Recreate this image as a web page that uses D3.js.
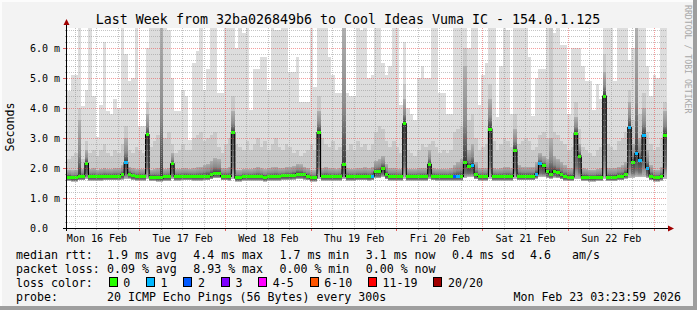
<!DOCTYPE html>
<html>
<head>
<meta charset="utf-8">
<title>Smokeping - last week</title>
<script src="https://cdn.jsdelivr.net/npm/d3@7/dist/d3.min.js"></script>
<style>
  body { margin: 0; background: #f3f3f3; }
  svg { display: block; }
  text { font-family: "DejaVu Sans Mono", monospace; fill: #000; }
</style>
</head>
<body>
<svg id="chart" width="697" height="310"></svg>
<script>
// hourly consolidated values, ms (one entry per hour, 168 hours)
const median = [
  1.70,1.67,1.67,1.73,1.73,2.16,1.72,1.72,1.72,1.72,
  1.73,1.73,1.73,1.73,1.73,1.77,2.18,1.80,1.75,1.72,
  1.72,1.72,3.11,1.70,1.70,1.68,1.67,1.71,1.71,2.14,
  1.72,1.72,1.73,1.73,1.73,1.72,1.72,1.72,1.73,1.73,
  1.77,1.83,1.83,1.73,1.73,1.72,3.18,1.67,1.67,1.72,
  1.72,1.72,1.72,1.72,1.72,1.68,1.72,1.72,1.72,1.72,
  1.74,1.74,1.74,1.76,1.80,1.80,1.77,1.73,1.67,1.67,
  3.18,1.72,1.72,1.72,1.72,1.72,1.72,2.12,1.72,1.72,
  1.72,1.73,1.73,1.73,1.72,1.73,1.87,1.87,2.00,1.77,
  1.72,1.72,1.72,1.72,3.47,1.72,1.72,1.72,1.72,1.72,
  1.72,2.12,1.73,1.72,1.72,1.72,1.72,1.72,1.72,1.72,
  1.72,2.20,2.05,2.10,1.77,1.72,1.72,1.72,3.30,1.72,
  1.72,1.72,1.72,1.72,1.72,2.60,1.73,1.73,1.73,1.73,
  1.73,1.80,2.14,2.07,1.87,1.80,1.90,1.85,1.77,1.72,
  1.70,1.70,3.15,2.40,1.70,1.70,1.68,1.68,1.70,1.70,
  4.40,1.70,1.70,1.70,1.73,1.73,1.80,3.35,2.20,2.48,
  2.25,3.09,2.00,1.73,1.67,1.67,1.72,3.10
];
// smoke: lowest ping, top of dark smoke, top of mid smoke, highest ping
const minPing = [
  1.57,1.55,1.55,1.59,1.59,1.62,1.58,1.58,1.58,1.58,
  1.59,1.59,1.59,1.59,1.59,1.61,1.63,1.64,1.60,1.58,
  1.58,1.58,1.62,1.57,1.57,1.55,1.55,1.57,1.57,1.62,
  1.58,1.58,1.59,1.59,1.59,1.58,1.58,1.58,1.59,1.59,
  1.62,1.66,1.66,1.59,1.59,1.58,1.62,1.55,1.55,1.58,
  1.58,1.58,1.58,1.58,1.58,1.55,1.58,1.58,1.58,1.58,
  1.60,1.60,1.60,1.61,1.63,1.63,1.61,1.59,1.55,1.55,
  1.62,1.58,1.58,1.58,1.58,1.58,1.58,1.62,1.58,1.58,
  1.58,1.59,1.59,1.59,1.58,1.59,1.66,1.66,1.70,1.62,
  1.58,1.58,1.58,1.58,1.64,1.58,1.58,1.58,1.58,1.58,
  1.58,1.62,1.59,1.58,1.58,1.58,1.58,1.58,1.58,1.58,
  1.58,1.66,1.70,1.70,1.62,1.58,1.58,1.58,1.64,1.58,
  1.58,1.58,1.58,1.58,1.58,1.63,1.59,1.59,1.59,1.59,
  1.59,1.64,1.70,1.70,1.66,1.64,1.68,1.66,1.62,1.58,
  1.57,1.57,1.62,1.64,1.57,1.57,1.55,1.55,1.57,1.57,
  1.64,1.57,1.57,1.57,1.59,1.59,1.64,1.66,1.68,1.70,
  1.70,1.70,1.66,1.59,1.55,1.55,1.58,1.64
];
const darkSmoke = [
  1.95,1.92,1.95,3.60,1.98,2.60,1.98,2.00,1.95,1.98,
  2.00,1.98,1.97,2.00,2.00,2.10,3.00,2.05,2.00,1.97,
  1.98,1.98,3.80,1.95,1.97,2.00,6.70,1.98,2.00,2.50,
  1.97,1.98,2.00,2.00,1.98,1.99,2.02,2.05,2.10,2.15,
  2.25,2.35,2.30,2.00,2.00,2.05,3.90,1.95,1.95,1.98,
  1.98,1.97,2.00,2.05,2.00,1.97,2.00,2.02,2.05,2.00,
  2.00,2.05,2.05,2.08,2.15,2.12,2.05,2.00,1.92,1.92,
  3.90,2.00,2.05,2.00,2.00,1.98,2.00,6.70,2.00,1.98,
  1.98,2.00,2.00,2.02,2.00,2.05,2.25,2.30,2.40,2.15,
  2.00,2.00,1.98,1.98,4.30,1.98,1.97,1.97,2.00,2.00,
  2.00,2.60,2.00,1.98,1.98,1.98,1.97,2.00,2.10,2.20,
  2.30,5.40,2.60,2.80,2.20,2.00,2.00,2.00,4.30,2.00,
  1.98,2.00,2.05,2.05,2.00,3.30,2.10,2.05,2.05,2.05,
  2.05,2.20,2.50,2.40,2.30,3.00,2.40,2.30,2.20,2.10,
  2.00,2.00,3.70,2.80,2.00,1.98,1.95,1.95,1.98,2.00,
  5.20,2.00,2.00,2.00,2.05,2.10,2.20,4.20,2.80,6.70,
  3.00,4.00,2.60,2.10,1.95,1.95,2.05,3.90
];
const upperSmoke = [
  2.3,2.4,2.5,4.0,2.3,2.9,2.5,2.6,2.4,2.6,
  2.8,2.5,2.4,2.6,2.5,2.8,3.4,2.6,2.5,2.7,
  2.6,2.5,4.2,2.7,2.9,3.1,6.7,3.0,3.2,2.8,
  2.5,2.6,2.8,2.6,2.6,3.0,3.1,3.2,2.9,3.0,
  3.1,3.2,2.7,2.5,2.8,3.0,4.4,2.8,2.7,2.6,
  2.9,2.6,2.8,3.0,2.7,2.9,2.6,2.8,3.0,2.7,
  2.6,2.8,2.7,2.5,2.6,2.4,2.5,2.6,2.8,2.6,
  4.4,3.0,2.8,2.7,2.9,2.6,2.7,6.7,2.6,2.8,
  2.6,2.9,2.7,2.8,2.6,2.8,3.2,3.4,3.3,2.9,
  2.7,2.9,2.7,2.5,4.8,2.6,2.5,2.4,2.6,2.8,
  2.7,2.8,2.9,2.7,2.5,2.6,2.5,2.6,3.2,3.3,
  3.4,6.0,3.6,3.8,3.0,2.6,2.7,2.8,4.8,2.9,
  2.6,2.8,3.0,2.9,2.7,3.8,2.8,2.9,3.0,2.9,
  2.6,2.7,3.1,3.2,3.0,6.7,3.2,3.1,2.9,2.8,
  2.6,2.7,4.2,3.3,2.7,2.6,2.5,2.4,2.6,2.7,
  5.8,2.8,2.7,2.6,2.9,3.0,3.2,4.6,3.6,6.7,
  3.8,4.5,3.2,2.8,2.6,2.7,3.0,4.2
];
const maxPing = [
  4.57,5.1,5.1,6.7,4.07,4.6,6.7,4.4,3.05,4.1,
  6.2,3.9,3.8,4.3,4.0,6.7,5.8,4.9,5.0,6.7,
  3.4,3.4,6.0,6.7,6.7,6.7,6.7,6.7,6.6,5.0,
  3.9,3.9,4.6,4.4,2.95,5.5,5.9,6.7,4.6,5.3,
  6.7,6.7,4.5,4.5,6.7,6.7,6.7,6.0,6.7,6.5,
  6.7,3.95,5.3,5.3,5.7,5.7,4.6,6.7,6.6,6.6,
  6.7,6.7,5.2,5.2,5.7,4.2,4.2,4.2,6.7,4.7,
  6.7,6.7,6.7,5.7,5.1,4.5,4.5,6.7,4.5,4.4,
  4.4,6.7,6.6,6.7,5.0,5.1,6.7,6.7,5.5,5.1,
  5.4,6.7,6.7,4.1,6.2,4.0,3.8,3.6,5.0,5.4,
  5.0,5.0,6.7,6.7,4.5,4.5,3.8,3.8,6.7,6.7,
  6.7,6.7,6.0,6.7,6.7,4.1,5.1,5.5,6.7,6.7,
  3.7,5.4,6.7,6.6,3.8,6.7,6.7,6.7,6.7,5.7,
  3.75,5.0,5.3,5.3,6.7,6.7,6.5,6.7,6.1,6.1,
  3.8,6.0,6.0,6.0,5.4,4.9,4.9,3.95,4.8,4.3,
  6.7,6.7,6.7,4.9,6.7,6.7,6.7,5.6,6.0,6.7,
  6.7,6.7,5.4,4.4,5.1,5.0,6.7,6.7
];
// lost pings (out of 20) per hour
const lossCount = [
  0,0,0,0,0,0,0,0,0,0, 0,0,0,0,0,0,1,0,0,0,
  0,0,0,0,0,0,0,0,0,0, 0,0,0,0,0,0,0,0,0,0,
  0,0,0,0,0,0,0,0,0,0, 0,0,0,0,0,0,0,0,0,0,
  0,0,0,0,0,0,0,0,0,0, 0,0,0,0,0,0,0,0,0,0,
  0,0,0,0,0,1,0,0,0,0, 0,0,0,0,0,0,0,0,0,0,
  0,0,0,0,0,0,0,0,2,1, 0,0,0,1,0,0,0,0,0,0,
  0,0,0,0,0,0,0,0,0,0, 0,1,1,0,0,0,0,0,0,0,
  0,0,0,0,0,0,0,0,0,0, 0,0,0,0,0,0,0,1,0,1,
  1,1,1,0,0,0,0,0
];

const lossLabels = ["0", "1", "2", "3", "4-5", "6-10", "11-19", "20/20"];
const lossColors = ["#26ff00", "#00b8ff", "#0059ff", "#7e00ff", "#ff00ff", "#ff5500", "#ff0000", "#a10000"];
const lossUpper = [0, 1, 2, 3, 5, 10, 19, 20];

const yTicks = [0, 1, 2, 3, 4, 5, 6];
const yTickLabels = ["0.0", "1.0 m", "2.0 m", "3.0 m", "4.0 m", "5.0 m", "6.0 m"];

const rttStats = ["1.9 ms avg", "4.4 ms max", "1.7 ms min", "3.1 ms now", "0.4 ms sd"];
const lossStats = ["0.09 % avg", "8.93 % max", "0.00 % min", "0.00 % now"];
const amsStat = ["4.6", "am/s"];

const HOUR = 3600e3;
const t0 = Date.UTC(2026, 1, 16, 3, 45);
const t1 = Date.UTC(2026, 1, 23, 3, 45);

const svg = d3.select("#chart");
const W = 697, H = 310;
const plotL = 67, plotR = 667, plotT = 28, plotB = 228;

const x = d3.scaleUtc().domain([t0, t1]).range([plotL, plotR]);
const y = d3.scaleLinear().domain([0, 20 / 3]).range([plotB, plotT]);

const bars = median.map((m, i) => ({
  t: t0 + i * HOUR, med: m, lo: minPing[i], dark: darkSmoke[i],
  mid: upperSmoke[i], hi: maxPing[i], loss: lossCount[i]
}));

// frame
svg.append("rect").attr("width", W).attr("height", H).attr("fill", "#f3f3f3");
svg.append("rect").attr("x", 0).attr("y", 0).attr("width", W).attr("height", 2).attr("fill", "#fcfcfc");
svg.append("rect").attr("x", 0).attr("y", 0).attr("width", 2).attr("height", H).attr("fill", "#fcfcfc");
svg.append("rect").attr("x", W - 4).attr("y", 0).attr("width", 4).attr("height", H).attr("fill", "#9e9e9e");
svg.append("rect").attr("x", 0).attr("y", H - 4).attr("width", W).attr("height", 4).attr("fill", "#9e9e9e");

svg.append("rect").attr("x", plotL).attr("y", plotT)
  .attr("width", plotR - plotL).attr("height", plotB - plotT).attr("fill", "#fff");

const defs = svg.append("defs");
defs.append("clipPath").attr("id", "plotClip").append("rect")
  .attr("x", plotL).attr("y", plotT).attr("width", plotR - plotL).attr("height", plotB - plotT);
const gUp = defs.append("linearGradient").attr("id", "darkUp").attr("x1", 0).attr("y1", 0).attr("x2", 0).attr("y2", 1);
gUp.append("stop").attr("offset", 0).attr("stop-color", "#b0b0b0");
gUp.append("stop").attr("offset", 0.6).attr("stop-color", "#8a8a8a");
gUp.append("stop").attr("offset", 1).attr("stop-color", "#3c3c3c");
const gDown = defs.append("linearGradient").attr("id", "darkDown").attr("x1", 0).attr("y1", 0).attr("x2", 0).attr("y2", 1);
gDown.append("stop").attr("offset", 0).attr("stop-color", "#404040");
gDown.append("stop").attr("offset", 0.7).attr("stop-color", "#707070");
gDown.append("stop").attr("offset", 1).attr("stop-color", "#bcbcbc");

const plot = svg.append("g").attr("clip-path", "url(#plotClip)");

function smoke(lo, hi, fill) {
  plot.append("g").attr("shape-rendering", "crispEdges")
    .selectAll("rect").data(bars).join("rect")
    .attr("x", d => x(d.t))
    .attr("width", d => x(d.t + HOUR) - x(d.t))
    .attr("y", d => y(hi(d)))
    .attr("height", d => Math.max(0, y(lo(d)) - y(hi(d))))
    .attr("fill", fill);
}
smoke(d => d.lo, d => d.hi, "#dddddd");
smoke(d => d.lo, d => d.mid, "#c9c9c9");
smoke(d => d.med, d => d.dark, "url(#darkUp)");
smoke(d => d.lo, d => d.med, "url(#darkDown)");

// grid on top of the smoke
const grid = svg.append("g").attr("shape-rendering", "crispEdges").attr("stroke-dasharray", "1,1");
const minorY = d3.range(1, 34).map(i => i * 0.2);
grid.selectAll("line.hy").data(minorY).join("line")
  .attr("x1", plotL).attr("x2", plotR)
  .attr("y1", d => Math.round(y(d)) + 0.5).attr("y2", d => Math.round(y(d)) + 0.5)
  .attr("stroke", (d, i) => (i + 1) % 5 === 0 ? "rgba(235,60,60,0.5)" : "rgba(150,150,150,0.55)");

const days = d3.utcDay.range(t0, t1);
const sixHours = d3.utcHour.every(6).range(t0, t1).filter(t => t.getUTCHours() !== 0);
grid.selectAll("line.vm").data(sixHours).join("line")
  .attr("y1", plotT).attr("y2", plotB)
  .attr("x1", d => Math.round(x(d)) + 0.5).attr("x2", d => Math.round(x(d)) + 0.5)
  .attr("stroke", "rgba(150,150,150,0.55)");
grid.selectAll("line.vd").data(days).join("line")
  .attr("class", "vd")
  .attr("y1", plotT).attr("y2", plotB)
  .attr("x1", d => Math.round(x(d)) + 0.5).attr("x2", d => Math.round(x(d)) + 0.5)
  .attr("stroke", "rgba(235,60,60,0.5)");

// median line + loss coloured markers
const medPts = bars.map(d => [x(d.t), y(d.med)]);
medPts.push([x(t1), y(bars[bars.length - 1].med)]);
plot.append("path")
  .attr("d", d3.line().curve(d3.curveStepAfter)(medPts))
  .attr("fill", "none").attr("stroke", "#000").attr("stroke-width", 1.1);

const lossBin = n => lossUpper.findIndex(u => n <= u);
plot.append("g").attr("shape-rendering", "crispEdges")
  .selectAll("rect").data(bars).join("rect")
  .attr("x", d => x(d.t))
  .attr("width", d => x(d.t + HOUR) - x(d.t))
  .attr("y", d => y(d.med) - 1.5)
  .attr("height", 3)
  .attr("fill", d => lossColors[lossBin(d.loss)]);

// axes
const axes = svg.append("g").attr("shape-rendering", "crispEdges");
axes.selectAll("line.yt").data(minorY.concat([0])).join("line")
  .attr("x1", d => d % 1 === 0 ? 63 : 65).attr("x2", 67)
  .attr("y1", d => Math.round(y(d)) + 0.5).attr("y2", d => Math.round(y(d)) + 0.5)
  .attr("stroke", d => Math.abs(d - Math.round(d)) < 1e-6 ? "#e06060" : "#aaa");
axes.selectAll("line.xt").data(sixHours).join("line")
  .attr("x1", d => Math.round(x(d)) + 0.5).attr("x2", d => Math.round(x(d)) + 0.5)
  .attr("y1", plotB).attr("y2", plotB + 2).attr("stroke", "#aaa");
axes.selectAll("line.xd").data(days).join("line")
  .attr("class", "xd")
  .attr("x1", d => Math.round(x(d)) + 0.5).attr("x2", d => Math.round(x(d)) + 0.5)
  .attr("y1", plotB).attr("y2", plotB + 3).attr("stroke", "#e06060");
axes.append("line").attr("x1", 63).attr("x2", 671).attr("y1", plotB + 0.5).attr("y2", plotB + 0.5).attr("stroke", "#000");
axes.append("line").attr("x1", plotL - 0.5).attr("x2", plotL - 0.5).attr("y1", plotB + 3).attr("y2", 23).attr("stroke", "#000");
svg.append("path").attr("d", "M668,225.5L674,228.5L668,231.5Z").attr("fill", "#a00000");
svg.append("path").attr("d", "M63.5,25L66.5,19L69.5,25Z").attr("fill", "#a00000");

// tick labels
svg.append("g").selectAll("text").data(yTicks).join("text")
  .attr("x", 30).attr("y", d => y(d) + 3.7)
  .style("font-size", "10px")
  .text((d, i) => yTickLabels[i]);

const noons = d3.utcHour.range(t0, t1).filter(t => t.getUTCHours() === 12);
const xAxis = d3.axisBottom(x).tickValues(noons).tickFormat(d3.utcFormat("%a %d %b")).tickSize(0).tickPadding(7);
const xg = svg.append("g").attr("transform", `translate(0,${plotB})`).call(xAxis);
xg.select(".domain").remove();
xg.selectAll("text").attr("font-family", null).attr("font-size", null).style("font-size", "10px").attr("fill", "#000");

// titles
svg.append("text").attr("x", 348).attr("y", 24).attr("text-anchor", "middle")
  .style("font-size", "13.3px")
  .text("Last Week from 32ba026849b6 to Cool Ideas Vuma IC - 154.0.1.125");
svg.append("text").attr("transform", "translate(14,127) rotate(-90)").attr("text-anchor", "middle")
  .style("font-size", "11.6px").text("Seconds");
svg.append("text").attr("transform", "translate(685,5) rotate(90)")
  .style("font-size", "8.2px").style("fill", "#a8a8a8").text("RRDTOOL / TOBI OETIKER");

// legend
const leg = svg.append("g").style("font-size", "11.6px").attr("xml:space", "preserve");
const rowY = [258.5, 272.5, 286.5, 300.5];
leg.append("text").attr("x", 16).attr("y", rowY[0]).text("median rtt:");
leg.selectAll("text.rtt").data(rttStats).join("text").attr("class", "rtt")
  .attr("x", (d, i) => 107 + i * 86.25).attr("y", rowY[0]).text(d => d);
leg.append("text").attr("x", 530).attr("y", rowY[0]).text(amsStat[0]);
leg.append("text").attr("x", 572).attr("y", rowY[0]).text(amsStat[1]);

leg.append("text").attr("x", 16).attr("y", rowY[1]).text("packet loss:");
leg.selectAll("text.pl").data(lossStats).join("text").attr("class", "pl")
  .attr("x", (d, i) => 107 + i * 86.25).attr("y", rowY[1]).text(d => d);

leg.append("text").attr("x", 16).attr("y", rowY[2]).text("loss color:");
let bx = 108.5;
lossLabels.forEach((lab, i) => {
  leg.append("rect").attr("x", bx + 0.5).attr("y", 277.5).attr("width", 8).attr("height", 9)
    .attr("fill", lossColors[i]).attr("stroke", "#000").attr("stroke-width", 1)
    .attr("shape-rendering", "crispEdges");
  leg.append("text").attr("x", bx + 14.7).attr("y", rowY[2]).text(lab);
  bx += 15 + 7 * lab.length + 15.4;
});

leg.append("text").attr("x", 16).attr("y", rowY[3]).text("probe:");
leg.append("text").attr("x", 107).attr("y", rowY[3]).text("20 ICMP Echo Pings (56 Bytes) every 300s");
leg.append("text").attr("x", 681).attr("y", rowY[3]).attr("text-anchor", "end").text("Mon Feb 23 03:23:59 2026");
</script>
</body>
</html>
